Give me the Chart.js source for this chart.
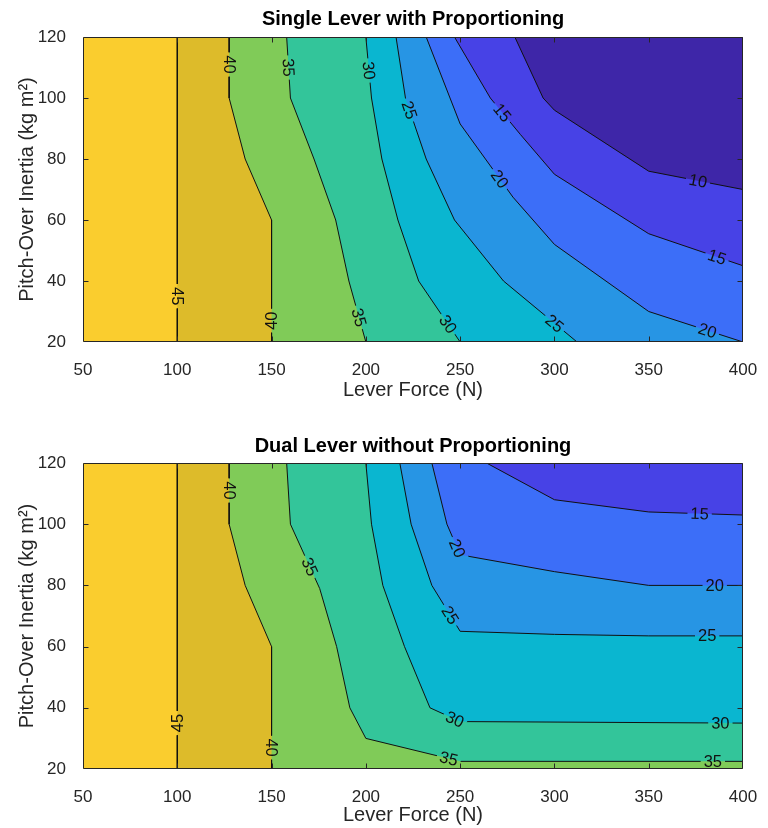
<!DOCTYPE html>
<html>
<head>
<meta charset="utf-8">
<script src="https://cdn.jsdelivr.net/npm/chart.js"></script>
<style>
  body { margin: 0; background: #fff; }
  canvas { position: absolute; left: 0; }
</style>
</head>
<body>
<canvas id="single" width="768" height="404" style="top:0"></canvas>
<canvas id="dual" width="768" height="424" style="top:404px"></canvas>
<script>
const forceTicks = [50, 100, 150, 200, 250, 300, 350, 400];
const inertiaTicks = [20, 40, 60, 80, 100, 120];
const levels = [45, 40, 35, 30, 25, 20, 15, 10];
// colour of the band just below each level (band above 45 is the background)
const levelColors = ['#DDBB2A', '#80CB58', '#33C59A', '#0AB6D0', '#2795E4', '#3C6EF8', '#4742E6', '#3E26A8'];
const topBandColor = '#FACD2E';

// contour lines as [force, inertia], traced from the top edge down / right
const single45 = [[100, 120], [100, 20]];
const single40 = [[127.5, 120], [127.5, 100], [136, 80], [150, 60], [150, 20]];
const single35 = [[158, 120], [160, 100], [172.5, 80], [184, 60], [191, 40], [200, 20]];
const single30 = [[200, 120], [203, 100], [208.5, 80], [217, 60], [228, 40], [250, 20]];
const single25 = [[216, 120], [221, 100], [232, 80], [247, 60], [273, 40], [312, 20]];
const single20 = [[232, 120], [250, 91.5], [278, 67.5], [300, 52], [350, 30], [400, 20]];
const single15 = [[247, 120], [266, 100], [282, 88], [300, 75], [350, 55.5], [400, 45]];
const single10 = [[279, 120], [294, 100], [300, 96], [350, 76], [400, 70]];

const dual45 = [[100, 120], [100, 20]];
const dual40 = [[127.5, 120], [127.5, 100], [136, 80], [150, 60], [150, 20]];
const dual35 = [[158, 120], [160, 100], [175.5, 79], [184.5, 60], [191.5, 40], [200, 30], [250, 22.5], [400, 22.5]];
const dual30 = [[200, 120], [203, 100], [209, 80], [220.5, 60], [234, 40], [250, 35.5], [400, 35]];
const dual25 = [[218, 120], [224, 100], [235, 80], [250, 65], [300, 64], [350, 63.5], [400, 63.5]];
const dual20 = [[235, 120], [243, 100], [250, 90], [300, 84.5], [350, 80], [400, 80]];
const dual15 = [[264, 120], [300, 108], [350, 104], [400, 103]];

// inline labels: [level, force, inertia, flipped]
const singleLabels = [
  [45, 100, 35, 0], [40, 127.5, 111, 0], [40, 150, 27, 1],
  [35, 159, 110, 0], [35, 196, 28, 0], [30, 201.5, 109, 0], [30, 244, 26, 0],
  [25, 223, 96, 0], [25, 300, 26, 0], [20, 270, 73, 0], [20, 381, 23.5, 0],
  [15, 272, 95, 0], [15, 386, 47.5, 0], [10, 376, 72.5, 0]
];
const dualLabels = [
  [45, 100, 35, 1], [40, 127.5, 111, 0], [40, 150, 27, 0],
  [35, 170, 86, 0], [35, 244, 23.5, 0], [35, 384, 22.5, 0],
  [30, 247, 36, 0], [30, 388, 35, 0], [25, 244, 70, 0], [25, 381, 63.5, 0],
  [20, 248, 92, 0], [20, 385, 80, 0], [15, 377, 103.5, 0]
];

const FONT = "'Liberation Sans', Arial, Helvetica, sans-serif";
const INK = '#262626';
const labelFont = '16.5px ' + FONT;
Chart.defaults.font.family = FONT;

const xMax = forceTicks[forceTicks.length - 1];
const yMin = inertiaTicks[0], yMax = inertiaTicks[inertiaTicks.length - 1];

function toPts(line) { return line.map(([x, y]) => ({x, y})); }

// line + right side corners, closed back along the top edge
function region(line) {
  const pts = toPts(line);
  const last = line[line.length - 1];
  if (last[1] === yMin && last[0] < xMax) pts.push({x: xMax, y: yMin});
  pts.push({x: xMax, y: yMax});
  return pts;
}

function spotsFor(chart, index) {
  const ds = chart.data.datasets[index];
  const pts = chart.getDatasetMeta(index).data;
  const sx = chart.scales.x, sy = chart.scales.y;
  const ctx = chart.ctx;
  ctx.save();
  ctx.font = labelFont;
  const out = ds.labelSpots.map(([lev, f, i, flip]) => {
    const px = sx.getPixelForValue(f), py = sy.getPixelForValue(i);
    let best = null;
    for (let k = 0; k < pts.length - 1; k++) {
      const a = pts[k], b = pts[k + 1];
      const dx = b.x - a.x, dy = b.y - a.y, L2 = dx * dx + dy * dy;
      let t = L2 ? ((px - a.x) * dx + (py - a.y) * dy) / L2 : 0;
      t = Math.max(0, Math.min(1, t));
      const qx = a.x + t * dx, qy = a.y + t * dy;
      const d = (qx - px) ** 2 + (qy - py) ** 2;
      if (!best || d < best.d) best = {d, x: qx, y: qy, angle: Math.atan2(dy, dx)};
    }
    const text = String(lev);
    return {x: best.x, y: best.y, angle: best.angle + (flip ? Math.PI : 0), text, w: ctx.measureText(text).width};
  });
  ctx.restore();
  return out;
}

const contourPlugin = {
  id: 'contour',
  beforeDatasetsDraw(chart) {
    const {ctx, chartArea: a} = chart;
    ctx.save();
    ctx.fillStyle = topBandColor;
    ctx.fillRect(a.left, a.top, a.right - a.left, a.bottom - a.top);
    ctx.restore();
  },
  beforeDatasetDraw(chart, args) {
    const ds = chart.data.datasets[args.index];
    if (!ds.labelSpots) return;
    const {ctx, chartArea: a} = chart;
    ctx.save();
    ctx.beginPath();
    ctx.rect(a.left - 2, a.top - 2, a.right - a.left + 4, a.bottom - a.top + 4);
    spotsFor(chart, args.index).forEach(s => {
      const c = Math.cos(s.angle), n = Math.sin(s.angle);
      const hw = s.w / 2 + 3, hh = 7;
      const corners = [[-hw, -hh], [hw, -hh], [hw, hh], [-hw, hh]];
      corners.forEach(([u, v], j) => {
        const X = s.x + u * c - v * n, Y = s.y + u * n + v * c;
        if (j === 0) ctx.moveTo(X, Y); else ctx.lineTo(X, Y);
      });
      ctx.closePath();
    });
    ctx.clip('evenodd');
  },
  afterDatasetDraw(chart, args) {
    if (chart.data.datasets[args.index].labelSpots) chart.ctx.restore();
  },
  afterDraw(chart) {
    const {ctx, chartArea: a} = chart;
    const sx = chart.scales.x, sy = chart.scales.y;
    // title, centred over the plot area
    const t = chart.options.plugins.contour;
    ctx.save();
    ctx.font = 'bold 20px ' + FONT;
    ctx.fillStyle = '#000';
    ctx.textAlign = 'center';
    ctx.textBaseline = 'middle';
    ctx.fillText(t.title, (a.left + a.right) / 2, t.titleY);
    ctx.restore();
    // labels
    ctx.save();
    ctx.beginPath();
    ctx.rect(a.left, a.top, a.right - a.left, a.bottom - a.top);
    ctx.clip();
    ctx.font = labelFont;
    ctx.fillStyle = '#111';
    ctx.textAlign = 'center';
    ctx.textBaseline = 'middle';
    chart.data.datasets.forEach((ds, idx) => {
      if (!ds.labelSpots) return;
      spotsFor(chart, idx).forEach(s => {
        ctx.save();
        ctx.translate(s.x, s.y);
        ctx.rotate(s.angle);
        ctx.fillText(s.text, 0, 1);
        ctx.restore();
      });
    });
    ctx.restore();
    // box and inward ticks
    ctx.save();
    ctx.strokeStyle = INK;
    ctx.lineWidth = 1;
    const L = Math.round(a.left) + 0.5, R = Math.round(a.right) - 0.5;
    const T = Math.round(a.top) + 0.5, B = Math.round(a.bottom) - 0.5;
    ctx.beginPath();
    ctx.rect(L, T, R - L, B - T);
    forceTicks.slice(1, -1).forEach(v => {
      const x = Math.round(sx.getPixelForValue(v)) + 0.5;
      ctx.moveTo(x, B); ctx.lineTo(x, B - 5);
      ctx.moveTo(x, T); ctx.lineTo(x, T + 5);
    });
    inertiaTicks.slice(1, -1).forEach(v => {
      const y = Math.round(sy.getPixelForValue(v)) + 0.5;
      ctx.moveTo(L, y); ctx.lineTo(L + 5, y);
      ctx.moveTo(R, y); ctx.lineTo(R - 5, y);
    });
    ctx.stroke();
    ctx.restore();
  }
};

function makeChart(id, title, lines, labels, opts) {
  const datasets = [];
  levels.forEach((lev, k) => {
    if (!lines[lev]) return;
    datasets.push({
      data: region(lines[lev]), fill: 'shape', backgroundColor: levelColors[k],
      borderWidth: 0, borderColor: 'transparent', pointRadius: 0, order: 100 - k
    });
  });
  levels.forEach(lev => {
    if (!lines[lev]) return;
    datasets.push({
      data: toPts(lines[lev]), fill: false, borderColor: '#111', borderWidth: 1,
      pointRadius: 0, tension: 0, order: 0,
      labelSpots: labels.filter(l => l[0] === lev)
    });
  });
  const canvas = document.getElementById(id);
  return new Chart(canvas, {
    type: 'line',
    data: {datasets},
    options: {
      responsive: false,
      animation: false,
      events: [],
      layout: {padding: {left: 0, right: 25, top: opts.plotTop, bottom: 0}},
      plugins: {
        legend: {display: false},
        tooltip: {enabled: false},
        title: {display: false},
        contour: {title, titleY: opts.titleY}
      },
      scales: {
        x: {
          type: 'linear', min: forceTicks[0], max: xMax,
          afterBuildTicks: s => { s.ticks = forceTicks.map(v => ({value: v})); },
          afterFit: s => { s.height = opts.xHeight; },
          grid: {display: false}, border: {display: false},
          ticks: {color: INK, font: {size: 17}, padding: 10, maxRotation: 0},
          title: {display: true, text: 'Lever Force (N)', color: INK,
                  font: {size: 20, lineHeight: 1.2}, padding: {top: 0, bottom: opts.xTitleBottom}}
        },
        y: {
          type: 'linear', min: yMin, max: yMax,
          afterBuildTicks: s => { s.ticks = inertiaTicks.map(v => ({value: v})); },
          afterFit: s => { s.width = 83; },
          grid: {display: false}, border: {display: false},
          ticks: {color: INK, font: {size: 17}, padding: 9},
          title: {display: true, text: 'Pitch-Over Inertia (kg m²)', color: INK,
                  font: {size: 20, lineHeight: 1.2}, padding: {top: 15, bottom: 0}}
        }
      }
    },
    plugins: [contourPlugin]
  });
}

makeChart('single', 'Single Lever with Proportioning',
  {45: single45, 40: single40, 35: single35, 30: single30, 25: single25, 20: single20, 15: single15, 10: single10},
  singleLabels, {plotTop: 37, titleY: 19, xHeight: 62, xTitleBottom: 2});

makeChart('dual', 'Dual Lever without Proportioning',
  {45: dual45, 40: dual40, 35: dual35, 30: dual30, 25: dual25, 20: dual20, 15: dual15},
  dualLabels, {plotTop: 59, titleY: 42, xHeight: 59, xTitleBottom: 1});
</script>
</body>
</html>
